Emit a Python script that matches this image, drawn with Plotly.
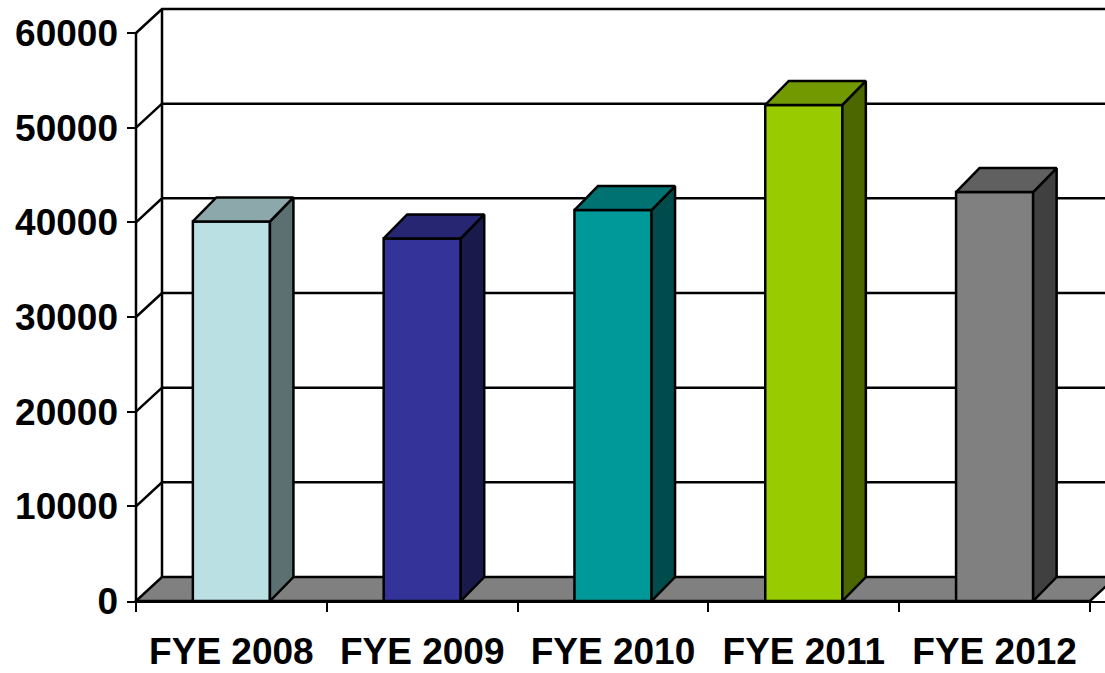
import plotly.graph_objects as go

# ---------------- data ----------------
categories = ["FYE 2008", "FYE 2009", "FYE 2010", "FYE 2011", "FYE 2012"]
values = [40100, 38300, 41300, 52400, 43200]
y_tick_values = [0, 10000, 20000, 30000, 40000, 50000, 60000]
y_tick_labels = ["0", "10000", "20000", "30000", "40000", "50000", "60000"]

# ---------------- styles ----------------
front_colors = ["#BBE0E3", "#333399", "#009999", "#99CC00", "#808080"]
FLOOR_COLOR = "#808080"
FONT = dict(family="Liberation Sans, Arial, sans-serif",
            size=37, color="black", weight="bold")
LINE_W = 2.5


def shade(hexc, f):
    h = hexc.lstrip("#")
    r, g, b = (int(h[i:i + 2], 16) for i in (0, 2, 4))
    return "rgb({},{},{})".format(int(r * f), int(g * f), int(b * f))


top_colors = [shade(c, 0.75) for c in front_colors]
side_colors = [shade(c, 0.5) for c in front_colors]

# ---------------- geometry (pixel layout -> data units) ----------------
W, H = 1105, 673
M_L, M_R, M_T, M_B = 127, 0, 0, 72
plot_w = W - M_L - M_R
plot_h = H - M_T - M_B
CAT_PX = 190.8                      # pixels per category on the front plane
Y_PX_PER_UNIT = 568.0 / y_tick_values[-1]
FRONT_SHIFT_PX = 9                  # front axis sits this far right of plot edge

x_min = -0.5 - FRONT_SHIFT_PX / CAT_PX
x_max = x_min + plot_w / CAT_PX
y_max = plot_h / Y_PX_PER_UNIT


def ddx(px):
    return px / CAT_PX


def ddy(px):
    return px / Y_PX_PER_UNIT


WALL_DX, WALL_DY = ddx(26), ddy(24)
BAR_DX, BAR_DY = ddx(23.5), ddy(24)
BAR_W = 0.404

n = len(categories)
xs = list(range(n))
left_edge = -0.5
right_edge = n - 0.5
y_top = y_tick_values[-1]


def path(pts, close=False):
    s = "M {} {}".format(*pts[0]) + "".join(" L {} {}".format(x, y) for x, y in pts[1:])
    return s + (" Z" if close else "")


shapes = []
# floor
shapes.append(dict(type="path", xref="x", yref="y", layer="below",
                   path=path([(left_edge, 0), (right_edge, 0),
                              (right_edge + WALL_DX, WALL_DY),
                              (left_edge + WALL_DX, WALL_DY)], close=True),
                   fillcolor=FLOOR_COLOR, line=dict(color="black", width=LINE_W)))
# gridlines: side wall diagonal + back wall horizontal
for v in y_tick_values[1:]:
    shapes.append(dict(type="path", xref="x", yref="y", layer="below",
                       path=path([(left_edge, v),
                                  (left_edge + WALL_DX, v + WALL_DY),
                                  (right_edge + WALL_DX, v + WALL_DY)]),
                       line=dict(color="black", width=LINE_W)))
# back wall left vertical edge
shapes.append(dict(type="line", xref="x", yref="y", layer="below",
                   x0=left_edge + WALL_DX, y0=WALL_DY,
                   x1=left_edge + WALL_DX, y1=y_top + WALL_DY,
                   line=dict(color="black", width=LINE_W)))
# back wall right vertical edge
shapes.append(dict(type="line", xref="x", yref="y", layer="below",
                   x0=right_edge + WALL_DX, y0=WALL_DY,
                   x1=right_edge + WALL_DX, y1=y_top + WALL_DY,
                   line=dict(color="black", width=LINE_W)))
# front value axis line
shapes.append(dict(type="line", xref="x", yref="y", layer="below",
                   x0=left_edge, y0=0, x1=left_edge, y1=y_top,
                   line=dict(color="black", width=LINE_W)))

fig = go.Figure()
fig.add_trace(go.Bar(x=xs, y=values, width=BAR_W,
                     marker=dict(color=front_colors, line=dict(color="black", width=LINE_W)),
                     showlegend=False, hoverinfo="skip"))

for i, v in enumerate(values):
    l = xs[i] - BAR_W / 2
    r = xs[i] + BAR_W / 2
    side = [(r, 0), (r, v), (r + BAR_DX, v + BAR_DY), (r + BAR_DX, BAR_DY), (r, 0)]
    top = [(l, v), (r, v), (r + BAR_DX, v + BAR_DY), (l + BAR_DX, v + BAR_DY), (l, v)]
    for pts, col in ((side, side_colors[i]), (top, top_colors[i])):
        fig.add_trace(go.Scatter(x=[p[0] for p in pts], y=[p[1] for p in pts],
                                 mode="lines", fill="toself", fillcolor=col,
                                 line=dict(color="black", width=LINE_W),
                                 showlegend=False, hoverinfo="skip"))

fig.update_layout(
    width=W, height=H,
    margin=dict(l=M_L, r=M_R, t=M_T, b=M_B, pad=0, autoexpand=False),
    paper_bgcolor="white", plot_bgcolor="white",
    shapes=shapes, showlegend=False,
    xaxis=dict(range=[x_min, x_max], tickmode="array", tickvals=xs, ticktext=categories,
               ticks="", showgrid=False, zeroline=False, tickangle=0, automargin=False,
               showline=True, linecolor="black", linewidth=2,
               minor=dict(tickmode="array",
                          tickvals=[i - 0.5 for i in range(n + 1)],
                          ticks="outside", ticklen=9, tickwidth=2, tickcolor="black",
                          showgrid=False),
               tickfont=FONT, ticklabelstandoff=17),
    yaxis=dict(range=[0, y_max], tickmode="array", tickvals=y_tick_values,
               ticktext=y_tick_labels, ticks="inside", ticklen=9, tickwidth=2,
               tickcolor="black", showgrid=False, zeroline=False, showline=False,
               automargin=False, tickfont=FONT, ticklabelstandoff=8),
)

fig.write_html("out.html")
